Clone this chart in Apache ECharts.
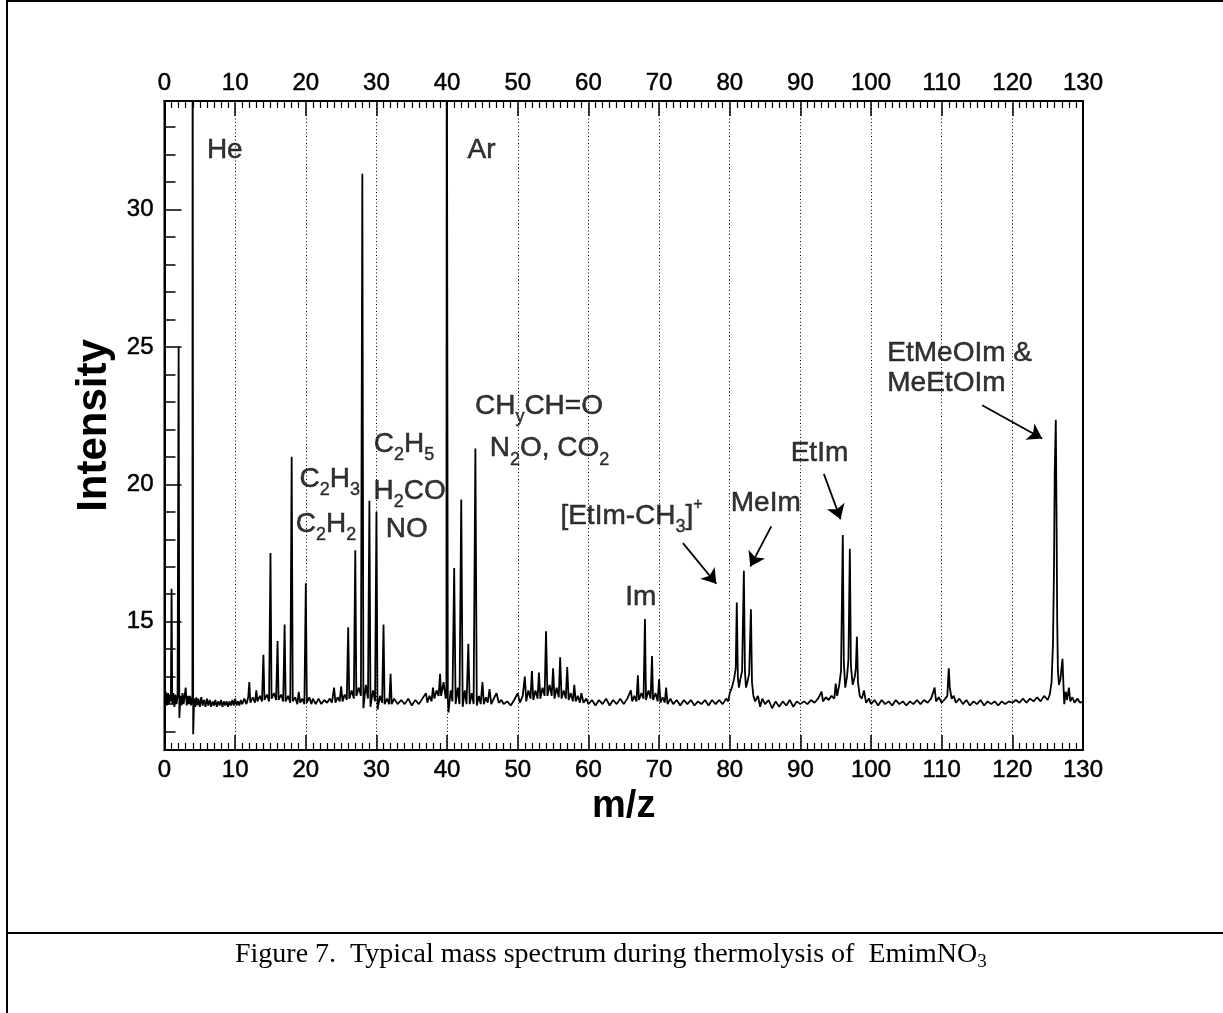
<!DOCTYPE html>
<html>
<head>
<meta charset="utf-8">
<title>Typical mass spectrum during thermolysis of EmimNO3</title>
<script src="https://cdn.jsdelivr.net/npm/echarts@6.0.0/dist/echarts.min.js"></script>
<style>
  html, body { margin: 0; padding: 0; background: #fff; }
  #chart { width: 1223px; height: 1013px; }
</style>
</head>
<body>
<div id="chart"></div>
<script>
// axes
const mzMin = 0;
const mzMax = 130;
const mzStep = 10;
const intensityMin = 10.33;
const intensityMax = 33.95;
const intensityLabels = [15, 20, 25, 30];
const intensityMinorTicks = [11, 12, 13, 14, 16, 17, 18, 19, 21, 22, 23, 24, 26, 27, 28, 29, 31, 32, 33];

// spectrum, [m/z, intensity]
const spectrumLow = [
  [0, 12.2], [0.2, 12.45], [0.35, 11.95], [0.5, 12.4], [0.65, 12.0], [0.8, 12.35], [0.9, 12.1],
  [1.0, 16.2], [1.1, 12.0], [1.25, 12.4], [1.4, 11.9], [1.55, 12.35], [1.7, 12.0], [1.85, 12.3],
  [2.0, 25.0], [2.1, 11.5], [2.25, 12.3], [2.4, 11.95], [2.55, 12.4], [2.7, 12.0], [2.85, 12.3],
  [3.0, 12.6], [3.15, 11.95], [3.3, 12.3], [3.45, 12.0], [3.6, 12.3], [3.75, 11.95], [3.9, 12.2],
  [3.95, 12.3], [3.98, 40], [4.02, 40], [4.06, 10.9], [4.2, 12.2], [4.35, 11.9], [4.5, 12.25], [4.65, 11.95],
  [4.8, 12.2], [5.0, 11.9], [5.2, 12.25], [5.4, 11.95], [5.6, 12.15], [5.8, 11.9], [6.0, 12.2],
  [6.2, 11.95], [6.4, 12.15], [6.6, 11.9], [6.8, 12.1], [7.0, 11.95], [7.2, 12.15], [7.4, 11.9],
  [7.6, 12.1], [7.8, 11.95], [8.0, 12.15], [8.2, 11.9], [8.4, 12.1], [8.6, 11.95], [8.8, 12.1],
  [9.0, 11.9], [9.2, 12.1], [9.4, 11.95], [9.6, 12.15], [9.8, 11.95], [10.0, 12.2], [10.2, 11.95],
  [10.4, 12.1], [10.6, 11.95], [10.8, 12.15]
];

const spectrumLight = [
  [11.0, 12.0], [11.3, 12.2], [11.6, 12.0], [11.85, 12.25], [12.0, 12.8], [12.15, 12.05], [12.5, 12.25],
  [12.8, 12.05], [13.0, 12.5], [13.15, 12.1], [13.5, 12.3], [13.8, 12.1], [14.0, 13.8], [14.15, 12.15],
  [14.5, 12.35], [14.8, 12.1], [15.0, 17.5], [15.15, 12.2], [15.5, 12.4], [15.8, 12.15], [16.0, 14.3],
  [16.15, 12.15], [16.5, 12.35], [16.8, 12.1], [17.0, 14.9], [17.15, 12.1], [17.5, 12.3], [17.8, 12.05],
  [18.0, 21.0], [18.15, 12.1], [18.5, 12.25], [18.8, 12.0], [19.0, 12.45], [19.2, 12.05], [19.5, 12.2],
  [19.8, 12.0], [20.0, 16.4], [20.15, 12.05], [20.5, 12.25], [20.8, 12.0], [21.0, 12.2], [21.4, 12.0],
  [21.8, 12.2], [22.2, 12.0], [22.6, 12.15], [23.0, 12.05], [23.4, 12.2], [23.7, 12.05], [24.0, 12.6],
  [24.2, 12.05], [24.5, 12.25], [24.8, 12.1], [25.0, 12.65], [25.2, 12.1], [25.5, 12.35], [25.8, 12.15],
  [26.0, 14.8], [26.15, 12.2], [26.5, 12.5], [26.8, 12.2], [27.0, 17.6], [27.15, 12.3], [27.5, 12.6],
  [27.8, 12.3], [28.0, 31.3], [28.15, 11.85], [28.5, 12.7], [28.8, 12.2], [29.0, 19.4], [29.15, 11.9],
  [29.5, 12.5], [29.8, 12.1], [30.0, 19.0], [30.15, 11.8], [30.5, 12.3], [30.8, 12.05], [31.0, 14.9],
  [31.15, 12.0], [31.5, 12.2], [31.8, 12.0], [32.0, 13.1], [32.15, 12.0], [32.5, 12.2], [33.0, 12.0],
  [33.5, 12.15], [34.0, 12.0], [34.5, 12.2], [35.0, 11.95], [35.5, 12.15], [36.0, 12.0], [36.5, 12.2],
  [37.0, 12.4], [37.2, 12.05], [37.5, 12.3], [37.8, 12.1], [38.0, 12.6], [38.2, 12.2], [38.5, 12.5],
  [38.8, 12.3], [39.0, 13.1], [39.15, 12.3], [39.5, 12.8], [39.8, 12.2], [39.9, 12.4]
];

const spectrumMid = [
  [39.95, 40], [40.05, 40], [40.1, 12.2], [40.2, 11.7], [40.5, 12.5], [40.75, 12.1], [41.0, 16.95], [41.2, 12.0],
  [41.5, 12.6], [41.75, 12.0], [42.0, 19.45], [42.2, 11.9], [42.5, 12.5], [42.75, 12.0], [43.0, 14.2],
  [43.2, 12.0], [43.5, 12.4], [43.75, 12.0], [44.0, 21.3], [44.2, 11.95], [44.5, 12.3], [44.75, 12.0],
  [45.0, 12.8], [45.2, 12.0], [45.5, 12.25], [45.75, 12.05], [46.0, 12.55], [46.25, 12.0], [46.6, 12.2],
  [47.0, 12.4], [47.3, 12.05], [47.7, 12.15], [48.0, 12.0], [48.5, 12.1], [49.0, 11.95], [49.5, 12.15],
  [50.0, 12.4], [50.3, 12.05], [50.7, 12.3], [51.0, 13.0], [51.2, 12.1], [51.5, 12.5], [51.8, 12.2],
  [52.0, 13.2], [52.2, 12.15], [52.5, 12.5], [52.8, 12.2], [53.0, 13.15], [53.2, 12.2], [53.5, 12.6],
  [53.8, 12.3], [54.0, 14.65], [54.2, 12.3], [54.5, 12.7], [54.8, 12.3], [55.0, 13.3], [55.2, 12.2],
  [55.5, 12.6], [55.8, 12.25], [56.0, 13.7], [56.2, 12.2], [56.5, 12.5], [56.8, 12.2], [57.0, 13.35],
  [57.2, 12.15], [57.5, 12.4], [57.8, 12.1], [58.0, 12.7], [58.2, 12.1], [58.5, 12.3], [58.8, 12.05],
  [59.0, 12.4], [59.3, 12.05], [59.7, 12.2], [60.0, 12.0], [60.5, 12.15], [61.0, 11.95], [61.5, 12.15],
  [62.0, 12.0], [62.5, 12.2], [63.0, 11.95], [63.5, 12.15], [64.0, 12.0], [64.5, 12.2], [65.0, 12.0],
  [65.5, 12.2], [66.0, 12.5], [66.2, 12.1], [66.5, 12.3], [66.8, 12.1], [67.0, 13.05], [67.15, 12.15],
  [67.5, 12.4], [67.8, 12.2], [68.0, 15.1], [68.15, 12.15], [68.5, 12.5], [68.8, 12.2], [69.0, 13.75],
  [69.15, 12.15], [69.5, 12.4], [69.8, 12.1], [70.0, 12.9], [70.2, 12.05], [70.5, 12.25], [70.8, 12.05],
  [71.0, 12.6], [71.2, 12.0], [71.6, 12.2], [72.0, 12.0], [72.5, 12.15], [73.0, 11.95], [73.5, 12.15],
  [74.0, 12.0], [74.5, 12.15], [75.0, 11.95], [75.5, 12.1], [76.0, 12.0], [76.5, 12.15], [77.0, 11.95],
  [77.5, 12.15], [78.0, 12.0], [78.5, 12.15], [79.0, 12.0], [79.5, 12.2], [79.8, 12.1]
];

const spectrumHigh = [
  [80.0, 12.4], [80.3, 12.6], [80.6, 12.9], [80.85, 13.3], [81.0, 15.7], [81.15, 13.0], [81.3, 12.6],
  [81.5, 12.9], [81.75, 13.2], [82.0, 16.85], [82.15, 13.2], [82.3, 12.6], [82.5, 12.8], [82.75, 13.1],
  [83.0, 15.45], [83.15, 12.8], [83.35, 12.3], [83.6, 12.1], [84.0, 12.3], [84.3, 11.9], [84.6, 12.2],
  [85.0, 12.0], [85.5, 12.15], [86.0, 11.85], [86.5, 12.1], [87.0, 11.9], [87.5, 12.1], [88.0, 11.95],
  [88.5, 12.15], [89.0, 11.9], [89.5, 12.1], [90.0, 12.0], [90.5, 12.1], [91.0, 12.0], [91.5, 12.15],
  [92.0, 12.05], [92.5, 12.2], [93.0, 12.45], [93.2, 12.1], [93.6, 12.25], [94.0, 12.15], [94.4, 12.3],
  [94.8, 12.2], [95.0, 12.75], [95.2, 12.3], [95.5, 12.7], [95.75, 13.2], [96.0, 18.15], [96.15, 13.5],
  [96.35, 12.6], [96.6, 13.0], [96.8, 13.6], [97.0, 17.65], [97.15, 13.4], [97.4, 12.7], [97.7, 13.0],
  [97.85, 13.3], [98.0, 14.45], [98.15, 12.8], [98.4, 12.3], [98.7, 12.2], [99.0, 12.5], [99.3, 12.05],
  [99.7, 12.2], [100.0, 12.0], [100.5, 12.15], [101.0, 11.95], [101.5, 12.15], [102.0, 12.0], [102.5, 12.1],
  [103.0, 11.95], [103.5, 12.15], [104.0, 12.0], [104.5, 12.1], [105.0, 11.95], [105.5, 12.1], [106.0, 12.0],
  [106.5, 12.15], [107.0, 12.0], [107.5, 12.15], [108.0, 12.05], [108.5, 12.2], [109.0, 12.6], [109.2, 12.1],
  [109.6, 12.25], [110.0, 12.05], [110.5, 12.2], [110.8, 12.3], [111.0, 13.3], [111.15, 12.6], [111.4, 12.2],
  [111.7, 12.3], [112.0, 12.05], [112.5, 12.2], [113.0, 12.0], [113.5, 12.15], [114.0, 11.95], [114.5, 12.1],
  [115.0, 12.0], [115.5, 12.15], [116.0, 11.95], [116.5, 12.1], [117.0, 12.0], [117.5, 12.1], [118.0, 11.95],
  [118.5, 12.1], [119.0, 12.0], [119.5, 12.1], [120.0, 12.05], [120.5, 12.15], [121.0, 12.05], [121.5, 12.2],
  [122.0, 12.05], [122.5, 12.2], [123.0, 12.1], [123.5, 12.25], [124.0, 12.1], [124.5, 12.3], [125.0, 12.15],
  [125.3, 12.35], [125.55, 12.8], [125.75, 14.2], [125.9, 17.0], [126.0, 20.5], [126.15, 22.35], [126.25, 19.0],
  [126.35, 15.0], [126.45, 13.2], [126.6, 12.7], [126.8, 12.9], [126.95, 13.3], [127.1, 13.65], [127.2, 12.9],
  [127.35, 12.0], [127.55, 12.45], [127.75, 12.15], [128.0, 12.6], [128.2, 12.1], [128.5, 12.25], [128.8, 12.05],
  [129.2, 12.2], [129.6, 12.05], [130.0, 12.1]
];

// peak labels, anchored in data coordinates
const peakLabels = [
  { text: 'He', at: [6.0, 32.15], align: 'left' },
  { text: 'Ar', at: [42.9, 32.15], align: 'left' },
  { text: 'C{sub|2}H{sub|3}', at: [23.4, 20.2] },
  { text: 'C{sub|2}H{sub|2}', at: [22.85, 18.54] },
  { text: 'C{sub|2}H{sub|5}', at: [33.9, 21.46] },
  { text: 'H{sub|2}CO', at: [34.7, 19.74] },
  { text: 'NO', at: [34.3, 18.36] },
  { text: 'CH{sub|y}CH=O', at: [53.0, 22.85] },
  { text: 'N{sub|2}O, CO{sub|2}', at: [54.5, 21.3] },
  { text: '[EtIm-CH{sub|3}]{sup|+}', at: [66.1, 18.83] },
  { text: 'Im', at: [67.4, 15.9] },
  { text: 'MeIm', at: [85.1, 19.3] },
  { text: 'EtIm', at: [92.7, 21.13] },
  { text: 'EtMeOIm &', at: [102.3, 24.78], align: 'left' },
  { text: 'MeEtOIm', at: [102.3, 23.69], align: 'left' }
];

const labelArrows = [
  { from: [73.38, 17.86], to: [78.1, 16.38] },
  { from: [85.88, 18.47], to: [82.91, 17.01] },
  { from: [93.32, 20.38], to: [95.69, 18.73] },
  { from: [115.73, 22.88], to: [124.22, 21.67] }
];

const spectrum = spectrumLow.concat(spectrumLight, spectrumMid, spectrumHigh);

const sans = "'Liberation Sans', Arial, Helvetica, sans-serif";
const serif = "'Liberation Serif', 'Times New Roman', serif";
const ink = { textBorderColor: '#000', textBorderWidth: 0.5 };

const chart = echarts.init(document.getElementById('chart'));

const mzAxis = (position) => ({
  type: 'value',
  position: position,
  min: mzMin,
  max: mzMax,
  interval: mzStep,
  axisLine: { show: true, onZero: false, lineStyle: { color: '#000', width: 2 } },
  axisTick: { show: true, inside: true, length: 15, lineStyle: { color: '#000', width: 1.5 } },
  minorTick: { show: true, splitNumber: 10, length: 7, lineStyle: { color: '#000', width: 1.2 } },
  axisLabel: Object.assign({ color: '#000', fontFamily: sans, fontSize: 24, margin: position === 'top' ? 6 : 8 }, ink),
  splitLine: { show: false }
});

const bottomAxis = mzAxis('bottom');
bottomAxis.splitLine = { show: true, lineStyle: { color: '#000', width: 1, type: [1, 2.5] } };
bottomAxis.name = 'm/z';
bottomAxis.nameLocation = 'middle';
bottomAxis.nameGap = 33;
bottomAxis.nameTextStyle = { color: '#000', fontFamily: sans, fontSize: 38, fontWeight: 'bold' };

chart.setOption({
  animation: false,
  backgroundColor: '#fff',
  grid: {
    left: 164.5, right: 140, top: 101, bottom: 263,
    show: true, borderColor: '#000', borderWidth: 2
  },
  xAxis: [bottomAxis, mzAxis('top')],
  yAxis: [
    {
      type: 'value',
      position: 'left',
      min: intensityMin,
      max: intensityMax,
      name: 'Intensity',
      nameLocation: 'middle',
      nameGap: 44,
      nameTextStyle: { color: '#000', fontFamily: sans, fontSize: 42, fontWeight: 'bold' },
      axisLine: { show: true, lineStyle: { color: '#000', width: 2 } },
      axisTick: { show: true, inside: true, length: 17, customValues: intensityLabels, lineStyle: { color: '#000', width: 1.5 } },
      axisLabel: Object.assign({ color: '#000', fontFamily: sans, fontSize: 24, margin: 11, customValues: intensityLabels }, ink),
      splitLine: { show: false }
    },
    {
      type: 'value',
      position: 'left',
      min: intensityMin,
      max: intensityMax,
      axisLine: { show: false },
      axisTick: { show: true, inside: true, length: 11, customValues: intensityMinorTicks, lineStyle: { color: '#000', width: 1.5 } },
      axisLabel: { show: false },
      splitLine: { show: false }
    }
  ],
  series: [
    {
      type: 'line',
      data: spectrum,
      showSymbol: false,
      symbol: 'none',
      lineStyle: { color: '#000', width: 1.8 },
      silent: true,
      z: 3
    },
    {
      type: 'lines',
      coordinateSystem: 'cartesian2d',
      symbol: ['none', 'arrow'],
      symbolSize: 14,
      lineStyle: { color: '#000', width: 1.8, opacity: 1, curveness: 0 },
      data: labelArrows.map(a => ({ coords: [a.from, a.to] })),
      silent: true,
      z: 4
    },
    {
      type: 'scatter',
      symbolSize: 1,
      itemStyle: { color: 'rgba(0,0,0,0)' },
      silent: true,
      z: 5,
      data: peakLabels.map(p => ({ value: p.at, name: p.text, label: { align: p.align || 'center' } })),
      label: Object.assign({
        show: true,
        position: 'inside',
        formatter: p => p.name,
        color: '#000',
        fontFamily: sans,
        fontSize: 28,
        lineHeight: 40,
        rich: {
          sub: { fontFamily: sans, fontSize: 18, lineHeight: 11, verticalAlign: 'bottom', color: '#000', textBorderColor: '#000', textBorderWidth: 0.4 },
          sup: { fontFamily: sans, fontSize: 16, lineHeight: 19, verticalAlign: 'top', color: '#000', textBorderColor: '#000', textBorderWidth: 0.4 }
        }
      }, ink)
    }
  ],
  graphic: [
    { type: 'line', shape: { x1: 7, y1: 0, x2: 7, y2: 1013 }, style: { stroke: '#000', lineWidth: 2 } },
    { type: 'line', shape: { x1: 7, y1: 1, x2: 1223, y2: 1 }, style: { stroke: '#000', lineWidth: 2 } },
    { type: 'line', shape: { x1: 7, y1: 933, x2: 1223, y2: 933 }, style: { stroke: '#000', lineWidth: 2 } },
    {
      type: 'text',
      left: 235,
      top: 938,
      style: {
        text: 'Figure 7.  Typical mass spectrum during thermolysis of  EmimNO{sub|3}',
        fill: '#000',
        font: '28px ' + serif,
        lineHeight: 34,
        rich: {
          sub: { fontFamily: serif, fontSize: 19, lineHeight: 12, verticalAlign: 'bottom', fill: '#000' }
        }
      }
    }
  ]
});
</script>
</body>
</html>
